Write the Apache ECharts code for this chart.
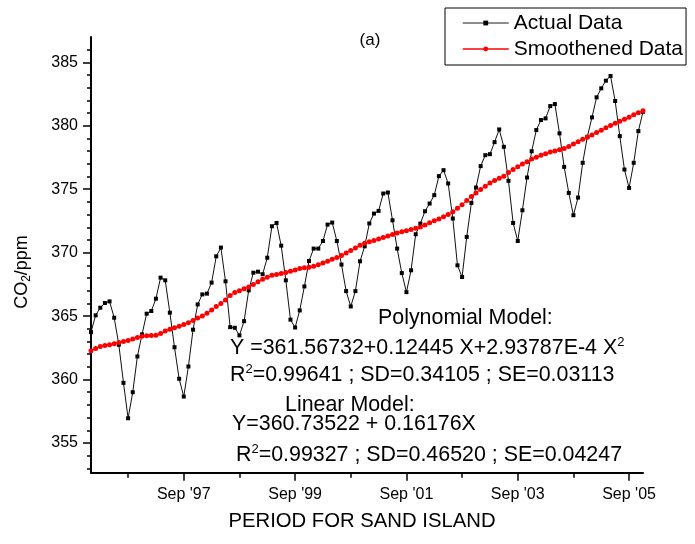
<!DOCTYPE html>
<html>
<head>
<meta charset="utf-8">
<script src="https://cdn.jsdelivr.net/npm/echarts@6/dist/echarts.min.js"></script>
<style>
html,body{margin:0;padding:0;background:#fff;}
#chart{width:695px;height:544px;}
</style>
</head>
<body>
<div id="chart"></div>
<script>
// ---- data ----
const monthNames = ['Jan','Feb','Mar','Apr','May','Jun','Jul','Aug','Sep','Oct','Nov','Dec'];
const yearNames = ['96','97','98','99','00','01','02','03','04','05'];
const xTickLabels = ["Sep '97","Sep '99","Sep '01","Sep '03","Sep '05"];
const xMinorTicks = ["Sep '96","Sep '98","Sep '00","Sep '02","Sep '04"];
const yTickLabels = [355,360,365,370,375,380,385];

const actualData = [
  363.74,365.06,365.66,366.03,366.16,364.87,362.74,359.74,356.95,359.00,361.82,363.56,
  365.19,365.40,366.37,368.03,367.82,365.27,362.55,360.06,358.66,361.03,363.93,365.92,
  366.71,366.77,367.64,369.71,370.40,367.74,364.13,364.08,363.48,364.60,367.03,368.42,
  368.50,368.30,369.60,372.08,372.34,370.55,367.82,364.72,364.10,365.45,367.34,369.34,
  370.32,370.32,370.92,372.21,372.37,370.92,369.06,366.97,365.76,366.97,369.32,370.50,
  372.30,373.08,373.29,374.66,374.74,372.55,370.32,368.39,366.89,368.61,371.45,372.29,
  373.26,373.87,374.53,376.03,376.50,375.45,372.69,369.00,368.08,371.24,373.92,375.13,
  376.82,377.68,377.76,378.71,379.71,378.34,375.66,372.34,370.92,373.34,375.92,377.99,
  379.66,380.45,380.58,381.55,381.71,379.40,376.76,374.71,372.95,374.34,377.08,379.13,
  380.66,382.24,382.95,383.55,383.92,381.95,379.18,376.55,375.10,377.08,379.58,381.10
];
const smoothedData = [
  362.27,362.45,362.60,362.68,362.75,362.83,362.91,363.00,363.08,363.19,363.32,363.42,
  363.45,363.47,363.49,363.62,363.83,363.97,364.09,364.21,364.34,364.48,364.65,364.85,
  365.00,365.22,365.48,365.75,366.00,366.26,366.63,366.86,367.00,367.15,367.30,367.49,
  367.70,367.90,368.06,368.21,368.28,368.35,368.44,368.53,368.64,368.75,368.81,368.85,
  368.93,369.05,369.18,369.33,369.48,369.62,369.77,369.97,370.16,370.37,370.59,370.74,
  370.85,370.96,371.08,371.19,371.31,371.43,371.54,371.65,371.73,371.82,371.92,372.02,
  372.18,372.35,372.51,372.66,372.83,373.01,373.22,373.50,373.78,374.10,374.43,374.70,
  374.98,375.23,375.48,375.68,375.86,376.02,376.32,376.56,376.76,376.98,377.17,377.37,
  377.52,377.67,377.80,377.93,378.02,378.11,378.20,378.37,378.56,378.74,378.93,379.10,
  379.28,379.47,379.65,379.84,380.02,380.20,380.36,380.52,380.67,380.86,381.02,381.18
];
const categories = [];
yearNames.forEach(y => monthNames.forEach(m => categories.push(m + " '" + y)));

// ---- layout ----
const FONT = 'Liberation Sans, Arial, sans-serif';
const PLOT_L = 91, PLOT_R = 643;
const Y385 = 62.3, PXPP = 12.69;           // pixel of 385 ppm, pixels per ppm
const yMin = 352.66, yMax = 387;
const yPix = v => Y385 + (385 - v) * PXPP;
const H = 544, W = 695;

function tickGrid(lo, hi) {
  return { left: PLOT_L, right: W - PLOT_R, top: yPix(hi), bottom: H - yPix(lo) };
}
const supRich = { sup: { fontFamily: FONT, fontSize: 13, lineHeight: 13, verticalAlign: 'top', fill: '#000' } };

const chart = echarts.init(document.getElementById('chart'), null, {renderer:'canvas'});
const option = {
  animation: false,
  backgroundColor: '#fff',
  grid: [
    { left: PLOT_L, right: W - PLOT_R, top: yPix(yMax), bottom: H - yPix(yMin) },
    tickGrid(yTickLabels[0], yTickLabels[yTickLabels.length - 1]),
    tickGrid(353, 386)
  ],
  xAxis: [
    { type: 'category', gridIndex: 0, data: categories, boundaryGap: false,
      axisLine: { lineStyle: { color: '#000', width: 2 } },
      axisTick: { show: true, length: 8, lineStyle: { color: '#000', width: 1.5 },
                  interval: (i, v) => xTickLabels.indexOf(v) >= 0 },
      axisLabel: { interval: (i, v) => xTickLabels.indexOf(v) >= 0, color: '#000',
                   fontFamily: FONT, fontSize: 16, margin: 14 },
      splitLine: { show: false } },
    { type: 'category', gridIndex: 0, data: categories, boundaryGap: false, position: 'bottom',
      axisLine: { show: false },
      axisTick: { show: true, length: 5, lineStyle: { color: '#000', width: 1.5 },
                  interval: (i, v) => xMinorTicks.indexOf(v) >= 0 },
      axisLabel: { show: false }, splitLine: { show: false } },
    { type: 'value', gridIndex: 1, show: false, min: 0, max: 1 },
    { type: 'value', gridIndex: 2, show: false, min: 0, max: 1 }
  ],
  yAxis: [
    { type: 'value', gridIndex: 0, min: yMin, max: yMax,
      axisLine: { show: true, lineStyle: { color: '#000', width: 2 } },
      axisTick: { show: false }, axisLabel: { show: false }, splitLine: { show: false } },
    { type: 'value', gridIndex: 1, min: yTickLabels[0], max: yTickLabels[yTickLabels.length - 1], interval: 5,
      axisLine: { show: false },
      axisTick: { show: true, length: 8, lineStyle: { color: '#000', width: 1.5 } },
      axisLabel: { color: '#000', fontFamily: FONT, fontSize: 16, margin: 13 },
      splitLine: { show: false } },
    { type: 'value', gridIndex: 2, min: 353, max: 386, interval: 1,
      axisLine: { show: false },
      axisTick: { show: true, length: 4, lineStyle: { color: '#000', width: 1.5 } },
      axisLabel: { show: false }, splitLine: { show: false } }
  ],
  legend: {
    orient: 'vertical', left: 445, top: 8,
    padding: [4, 3, 5, 17], itemGap: 4, itemWidth: 46, itemHeight: 6,
    borderColor: '#000', borderWidth: 1, backgroundColor: '#fff',
    textStyle: { fontFamily: FONT, fontSize: 21, color: '#000', lineHeight: 22 },
    data: [
      { name: 'Actual Data', itemStyle: { color: '#000' }, lineStyle: { color: '#666', width: 1.5 } },
      { name: 'Smoothened Data', lineStyle: { width: 1.5 } }
    ]
  },
  series: [
    { name: 'Actual Data', type: 'line', xAxisIndex: 0, yAxisIndex: 0, data: actualData,
      symbol: 'rect', symbolSize: 4, showAllSymbol: true,
      lineStyle: { color: '#111', width: 1 }, itemStyle: { color: '#000' }, z: 3 },
    { name: 'Smoothened Data', type: 'line', xAxisIndex: 0, yAxisIndex: 0, data: smoothedData,
      symbol: 'circle', symbolSize: 5, showAllSymbol: true,
      lineStyle: { color: '#ff0000', width: 1 }, itemStyle: { color: '#ff0000' }, z: 4 }
  ],
  graphic: [
    { type: 'text', x: 370, y: 40, style: { text: '(a)', fontFamily: FONT, fontSize: 17, fill: '#000', align: 'center', verticalAlign: 'middle' } },
    { type: 'text', x: 362, y: 521, style: { text: 'PERIOD FOR SAND ISLAND', fontFamily: FONT, fontSize: 20.3, fill: '#000', align: 'center', verticalAlign: 'middle' } },
    { type: 'text', x: 22, y: 272, rotation: Math.PI / 2,
      style: { text: 'CO{sub|2}/ppm', fontFamily: FONT, fontSize: 18, fill: '#000', align: 'center', verticalAlign: 'middle', lineHeight: 22,
               rich: { sub: { fontFamily: FONT, fontSize: 12, lineHeight: 12, verticalAlign: 'bottom', fill: '#000' } } } },
    { type: 'text', x: 378, y: 318, style: { text: 'Polynomial Model:', fontFamily: FONT, fontSize: 21.4, fill: '#000', align: 'left', verticalAlign: 'middle' } },
    { type: 'text', x: 230, y: 348,
      style: { text: 'Y =361.56732+0.12445 X+2.93787E-4 X{sup|2}', fontFamily: FONT, fontSize: 21.4, fill: '#000', align: 'left', verticalAlign: 'middle', lineHeight: 24, rich: supRich } },
    { type: 'text', x: 230, y: 375,
      style: { text: 'R{sup|2}=0.99641 ; SD=0.34105 ; SE=0.03113', fontFamily: FONT, fontSize: 21.4, fill: '#000', align: 'left', verticalAlign: 'middle', lineHeight: 24, rich: supRich } },
    { type: 'text', x: 285, y: 405, style: { text: 'Linear Model:', fontFamily: FONT, fontSize: 21.4, fill: '#000', align: 'left', verticalAlign: 'middle' } },
    { type: 'text', x: 232, y: 424, style: { text: 'Y=360.73522 + 0.16176X', fontFamily: FONT, fontSize: 21.4, fill: '#000', align: 'left', verticalAlign: 'middle' } },
    { type: 'text', x: 236, y: 455,
      style: { text: 'R{sup|2}=0.99327 ; SD=0.46520 ; SE=0.04247', fontFamily: FONT, fontSize: 21.4, fill: '#000', align: 'left', verticalAlign: 'middle', lineHeight: 24, rich: supRich } }
  ]
};
chart.setOption(option);
</script>
</body>
</html>
